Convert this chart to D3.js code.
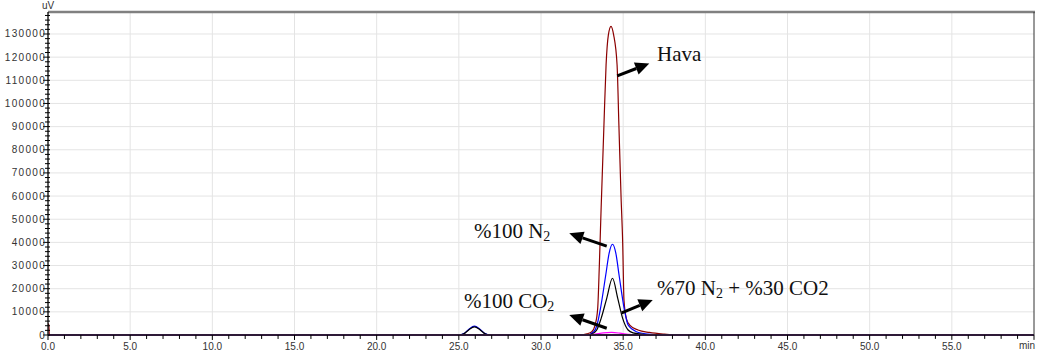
<!DOCTYPE html>
<html>
<head>
<meta charset="utf-8">
<script src="https://cdn.jsdelivr.net/npm/d3@7"></script>
<style>
    body { margin: 0; background: #fff; }
    .tick-label { font-family: "Liberation Sans", Arial, sans-serif; font-size: 10px; fill: #333; }
    .note { font-family: "Liberation Serif", "Times New Roman", serif; font-size: 21px; fill: #111; }
</style>
</head>
<body>
<div class="viz"></div>
<script>
// chromatogram traces, [minutes, uV]
const havaTrace = [
    [0, 4700], [0.05, 4700], [0.08, 0], [32.4, 0], [32.8, 500], [33.09, 1400],
    [33.3, 4500], [33.45, 11500], [33.55, 30000], [33.66, 55000], [33.83, 90700],
    [33.96, 116600], [34.1, 129600], [34.26, 133300], [34.42, 129600],
    [34.63, 116600], [34.74, 90700], [34.87, 60000], [34.97, 40000], [35.05, 15000],
    [35.2, 7000], [35.4, 4300], [35.9, 2160], [36.6, 1100], [37.5, 400], [38.5, 0], [60, 0],
];
const n2Trace = [
    [0, 0], [25.0, 0], [25.3, 600], [25.6, 2400], [25.95, 3800], [26.3, 2400],
    [26.6, 600], [26.9, 0], [32.8, 0], [33.21, 1400], [33.41, 4300], [33.62, 11500],
    [33.94, 25900], [34.15, 35500], [34.35, 39200], [34.55, 35500], [34.75, 25900],
    [35.06, 11500], [35.3, 4300], [35.81, 1400], [36.5, 400], [37.5, 0], [60, 0],
];
const mixTrace = [
    [0, 0], [25.05, 0], [25.3, 500], [25.6, 2200], [25.95, 3500], [26.3, 2200],
    [26.6, 500], [26.85, 0], [32.8, 0], [33.21, 900], [33.39, 2160], [33.66, 7200],
    [34.0, 15850], [34.35, 24500], [34.67, 15850], [34.97, 7200], [35.3, 2160],
    [35.6, 900], [36.3, 200], [37, 0], [60, 0],
];
const co2Trace = [
    [0, 0], [32.8, 0], [33.3, 400], [33.8, 900], [34.3, 1100], [34.8, 800],
    [35.3, 300], [35.8, 0], [60, 0],
];

const traces = [
    { name: "Hava", color: "#8b0000", points: havaTrace },
    { name: "%100 N2", color: "#0000ff", points: n2Trace },
    { name: "%70 N2 + %30 CO2", color: "#000000", points: mixTrace },
    { name: "%100 CO2", color: "#ff00ff", points: co2Trace },
];

const xMajor = [0, 5, 10, 15, 20, 25, 30, 35, 40, 45, 50, 55];
const xLabels = ["0.0", "5.0", "10.0", "15.0", "20.0", "25.0", "30.0", "35.0", "40.0", "45.0", "50.0", "55.0"];
const yMajor = [0, 10000, 20000, 30000, 40000, 50000, 60000, 70000, 80000, 90000, 100000, 110000, 120000, 130000];

// annotations: label position and arrow tail -> tip, all in data units
const notes = [
    { parts: [["Hava"]], at: [37.06, 117000], tail: [34.64, 111900], tip: [36.59, 117300] },
    { parts: [["%100 N"], ["2", "sub"]], at: [25.92, 40600], tail: [34.0, 38400], tip: [31.72, 43900] },
    { parts: [["%70 N"], ["2", "sub"], [" + %30 CO2"]], at: [37.06, 16000], tail: [34.91, 9600], tip: [36.8, 15100] },
    { parts: [["%100 CO"], ["2", "sub"]], at: [25.31, 10400], tail: [34.0, 2900], tip: [31.72, 8600] },
];

const width = 1038, height = 361;

var svg = d3.select(".viz").append("svg")
    .attr("width", width)
    .attr("height", height);

svg.append("rect").attr("width", width).attr("height", height).attr("fill", "#fff");

var x = d3.scaleLinear().domain([0, 60]).range([48, 1034]);
var y = d3.scaleLinear().domain([0, 139500]).range([335, 12]);

/**
 * grid
 */
svg.append("g").selectAll("line")
    .data(yMajor.slice(1))
    .enter().append("line")
    .attr("x1", x(0)).attr("x2", x(60))
    .attr("y1", (d) => y(d)).attr("y2", (d) => y(d))
    .attr("stroke", "#e4e4e4");

svg.append("g").selectAll("line")
    .data(xMajor.slice(1))
    .enter().append("line")
    .attr("x1", (d) => x(d)).attr("x2", (d) => x(d))
    .attr("y1", y(0)).attr("y2", y.range()[1])
    .attr("stroke", "#e4e4e4");

/**
 * traces
 */
var line = d3.line()
    .x((d) => x(d[0]))
    .y((d) => y(d[1]))
    .curve(d3.curveMonotoneX);

svg.append("g").selectAll("path")
    .data(traces)
    .enter().append("path")
    .attr("d", (d) => line(d.points))
    .attr("fill", "none")
    .attr("stroke", (d) => d.color)
    .attr("stroke-width", 1.2);

/**
 * frame and axes
 */
svg.append("line")
    .attr("x1", x(0)).attr("x2", x(60) + 1)
    .attr("y1", y.range()[1]).attr("y2", y.range()[1])
    .attr("stroke", "#808080").attr("stroke-width", 2.5);

svg.append("line")
    .attr("x1", x(60)).attr("x2", x(60))
    .attr("y1", y.range()[1]).attr("y2", y(0))
    .attr("stroke", "#333").attr("stroke-width", 1);

svg.append("line")
    .attr("x1", x(0)).attr("x2", x(0))
    .attr("y1", y.range()[1]).attr("y2", y(0))
    .attr("stroke", "#000").attr("stroke-width", 1.3);

svg.append("line")
    .attr("x1", x(0)).attr("x2", x(60))
    .attr("y1", y(0)).attr("y2", y(0))
    .attr("stroke", "#2e1a38").attr("stroke-width", 2);

// y ticks, minor every 2000
var yMinor = d3.range(0, 139000, 2000);
svg.append("g").selectAll("line")
    .data(yMinor)
    .enter().append("line")
    .attr("x1", (d) => x(0) - (d % 10000 === 0 ? 5 : 3))
    .attr("x2", x(0) + 2)
    .attr("y1", (d) => y(d)).attr("y2", (d) => y(d))
    .attr("stroke", "#000");

svg.append("g").selectAll("text")
    .data(yMajor)
    .enter().append("text")
    .attr("class", "tick-label")
    .attr("x", x(0) - 2)
    .attr("y", (d) => y(d) + 3.5)
    .attr("text-anchor", "end")
    .attr("letter-spacing", "1.3px")
    .text((d) => d);

// x ticks, minor every minute
svg.append("g").selectAll("line")
    .data(d3.range(0, 61, 1))
    .enter().append("line")
    .attr("x1", (d) => x(d)).attr("x2", (d) => x(d))
    .attr("y1", y(0))
    .attr("y2", (d) => y(d) + (d % 5 === 0 ? 5 : 4))
    .attr("stroke", "#000");

svg.append("g").selectAll("text")
    .data(xMajor)
    .enter().append("text")
    .attr("class", "tick-label")
    .attr("x", (d) => x(d))
    .attr("y", 350)
    .attr("text-anchor", "middle")
    .text((d, i) => xLabels[i]);

svg.append("text").attr("class", "tick-label")
    .attr("x", x(60) + 1).attr("y", 349)
    .attr("text-anchor", "end")
    .text("min");

svg.append("text").attr("class", "tick-label")
    .attr("x", x(0)).attr("y", 9)
    .attr("text-anchor", "middle")
    .text("uV");

/**
 * annotations
 */
notes.forEach((n) => {
    var t = svg.append("text")
        .attr("class", "note")
        .attr("x", x(n.at[0]))
        .attr("y", y(n.at[1]));
    n.parts.forEach((p) => {
        if (p[1] === "sub") {
            t.append("tspan").attr("font-size", "14px").attr("dy", 3).text(p[0]);
        } else {
            t.append("tspan").attr("dy", t.selectAll("tspan").size() ? -3 : 0).text(p[0]);
        }
    });

    var x0 = x(n.tail[0]), y0 = y(n.tail[1]),
        x1 = x(n.tip[0]), y1 = y(n.tip[1]);
    var a = Math.atan2(y1 - y0, x1 - x0),
        headLen = 14, headW = 6.5;
    var bx = x1 - headLen * Math.cos(a), by = y1 - headLen * Math.sin(a);

    svg.append("line")
        .attr("x1", x0).attr("y1", y0)
        .attr("x2", bx).attr("y2", by)
        .attr("stroke", "#000").attr("stroke-width", 3);

    svg.append("polygon")
        .attr("points", [
            [x1, y1],
            [bx + headW * Math.sin(a), by - headW * Math.cos(a)],
            [bx - headW * Math.sin(a), by + headW * Math.cos(a)],
        ].map((p) => p.join(",")).join(" "))
        .attr("fill", "#000");
});
</script>
</body>
</html>
